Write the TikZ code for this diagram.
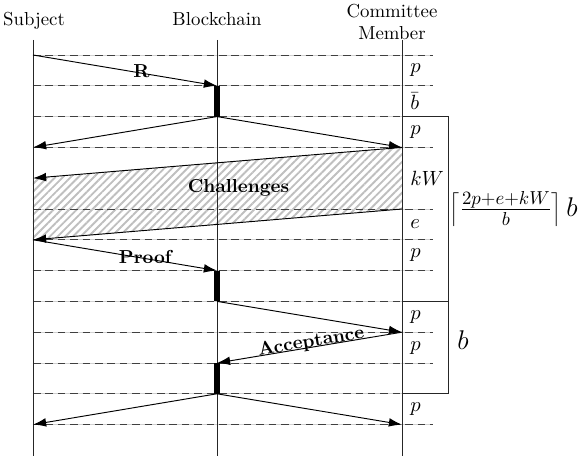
\documentclass[tikz,border=0pt]{standalone}
\usetikzlibrary{arrows.meta,patterns.meta}
\begin{document}
\begin{tikzpicture}[x=0.532pt,y=-0.532pt,
  life/.style={draw=black!85,line width=0.5pt},
  gridline/.style={draw=black!18,line width=0.45pt,
    postaction={draw=black!75,line width=0.45pt,dash pattern=on 4pt off 2.6pt}},
  msg/.style={draw=black,line width=0.5pt,-{Latex[length=7pt,width=4.6pt]}},
  actbar/.style={draw=black,line width=3pt,line cap=butt},
  lbl/.style={font=\bfseries,inner sep=0pt},
  side/.style={anchor=west,inner sep=0pt,font=\fontsize{11}{13}\selectfont},
  brace/.style={draw=black!85,line width=0.5pt},
  hatch/.style={pattern={Lines[angle=45,distance=2.9pt,line width=1pt]},pattern color=black!25}]
\useasboundingbox (0,0) rectangle (581,456);
% row coordinates
\foreach \i in {0,...,12}{
  \pgfmathsetmacro\yy{55+30.8*\i}
  \coordinate (S\i) at (33,\yy);
  \coordinate (B\i) at (217,\yy);
  \coordinate (C\i) at (402,\yy);
  \coordinate (E\i) at (433,\yy);
  \coordinate (K\i) at (448,\yy);
}
\coordinate (Stop) at (33,40);  \coordinate (Sbot) at (33,456);
\coordinate (Btop) at (217,40); \coordinate (Bbot) at (217,456);
\coordinate (Ctop) at (402,40); \coordinate (Cbot) at (402,456);
% headers
\node[anchor=base,inner sep=0pt] (hS) at (34,25.5) {Subject};
\node[anchor=base,inner sep=0pt] (hB) at (217,25.5) {Blockchain};
\node[anchor=north,inner sep=0pt,align=center] (hC) at (392,3.5) {Committee\\Member};
% hatched challenge region
\fill[hatch] (C3) -- (S4) -- (S6) -- (C5) -- cycle;
% grid
\foreach \i in {0,1,2,3,5,6,7,8,9,10,11,12}{
  \draw[gridline] (S\i) -- (E\i);
}
% lifelines
\draw[life] (Stop) -- (Sbot);
\draw[life] (Btop) -- (Bbot);
\draw[life] (Ctop) -- (Cbot);
% messages
\draw[msg] (S0) -- (B1) node[lbl,pos=0.59,yshift=0.9pt] (lR) {R};
\draw[msg] (B2) -- (S3);
\draw[msg] (B2) -- (C3);
\draw[msg] (C3) -- (S4);
\draw[msg] (C5) -- (S6);
\node[lbl] (chal) at (238.5,188.3) {Challenges};
\draw[msg] (S6) -- (B7) node[lbl,pos=0.61,yshift=1pt] (lP) {Proof};
\draw[msg] (B8) -- (C9);
\draw[msg] (C9) -- (B10) node[lbl,sloped,pos=0.486,yshift=2.7pt] (lA) {Acceptance};
\draw[msg] (B11) -- (S12);
\draw[msg] (B11) -- (C12);
% activation bars
\draw[actbar] (B1) -- (B2);
\draw[actbar] (B7) -- (B8);
\draw[actbar] (B10) -- (B11);
% side labels
\node[side] (t0) at (410,70.4) {$p$};
\node[side] (t1) at (410,101.2) {$\bar b$};
\node[side] (t2) at (410,132) {$p$};
\node[side] (t3) at (410,178.2) {$kW$};
\node[side] (t4) at (410,224.4) {$e$};
\node[side] (t5) at (410,255.2) {$p$};
\node[side] (t6) at (410,316.8) {$p$};
\node[side] (t7) at (410,347.6) {$p$};
\node[side] (t8) at (410,409.2) {$p$};
% brackets
\draw[brace] (C2) -- (K2) -- (K8) -- (C8);
\draw[brace] (C8) -- (K8) -- (K11) -- (C11);
\node[anchor=west,inner sep=0pt,font=\Large] (f1) at (449.5,209.2) {$\left\lceil\frac{2p+e+kW}{b}\right\rceil b$};
\node[anchor=west,inner sep=0pt,font=\Large] (f2) at (457,340.5) {$b$};
\end{tikzpicture}
\end{document}
